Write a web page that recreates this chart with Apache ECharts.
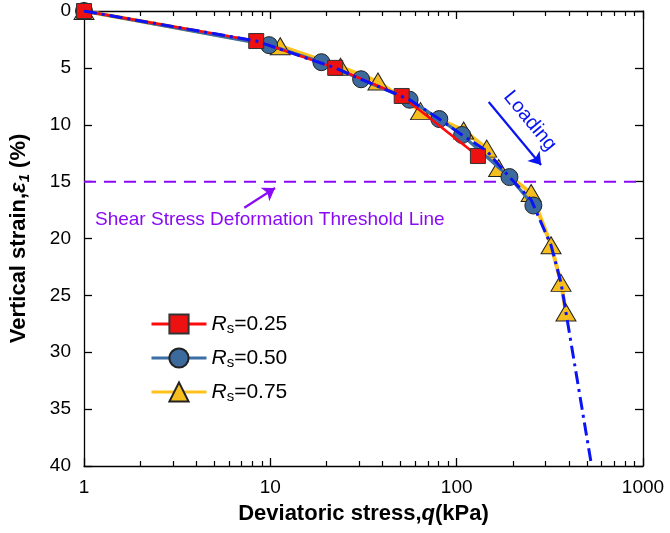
<!DOCTYPE html>
<html><head><meta charset="utf-8">
<script src="https://cdn.jsdelivr.net/npm/echarts@6/dist/echarts.min.js"></script>
<style>html,body{margin:0;padding:0;background:#fff}#c{width:670px;height:533px}</style>
</head><body><div id="c"></div>
<script>
// ---- data ----
const q025 = [1, 8.4, 22.3, 50.7, 130];
const e025 = [0, 2.64, 5.0, 7.47, 12.75];
const q050 = [1, 9.85, 18.8, 30.7, 55.9, 80.7, 107, 192, 258];
const e050 = [0, 3.0, 4.5, 6.0, 7.8, 9.5, 10.9, 14.6, 17.1];
const q075 = [1, 11.3, 23.8, 37.8, 64, 109, 145, 168, 251, 321, 363, 386];
const e075 = [0, 3.1, 4.9, 6.2, 8.8, 10.5, 12.1, 13.8, 16.0, 20.6, 23.9, 26.5];
const qFit = [1, 8.4, 22.3, 30.7, 55.9, 80.7, 107, 145, 192, 251, 321, 363, 386, 530];
const eFit = [0, 2.64, 5.0, 6.0, 7.8, 9.5, 10.9, 12.3, 14.6, 16.6, 20.6, 23.9, 26.5, 40];
const thrQ = [1, 1000];
const thrE = [15, 15];
const xMajor = [1, 10, 100, 1000];
const xMinor = [2,3,4,5,6,7,8,9,20,30,40,50,60,70,80,90,200,300,400,500,600,700,800,900];
const yTicks = [0, 5, 10, 15, 20, 25, 30, 35, 40];
const shearArrow = [[7.25, 17.3], [10.6, 15.56]];
const loadArrow = [[148.6, 8.0], [284, 13.54]];
const names = ['Rs=0.25', 'Rs=0.50', 'Rs=0.75'];

const zip = (a, b) => a.map((v, i) => [v, b[i]]);
const FONT = "'Liberation Sans', Arial, sans-serif";
const chart = echarts.init(document.getElementById('c'));

const xBase = {type: 'log', logBase: 10, min: 1, max: 1000, gridIndex: 0, splitLine: {show: false}};
const option = {
  backgroundColor: '#fff',
  animation: false,
  grid: {left: 78, right: 27, top: 11, bottom: 67, containLabel: false},
  xAxis: [
    Object.assign({}, xBase, {
      position: 'bottom',
      axisLine: {show: true, onZero: false, lineStyle: {color: '#000', width: 1.3}},
      axisTick: {show: true, inside: true, length: 8, lineStyle: {color: '#000', width: 1.3}, customValues: xMajor},
      axisLabel: {show: true, fontSize: 19, color: '#000', fontFamily: FONT, margin: 12, customValues: xMajor,
                  formatter: v => String(Math.round(v))},
      name: '{b|Deviatoric stress,}{bi|q}{b|(kPa)}',
      nameLocation: 'middle', nameGap: 37,
      nameTextStyle: {fontSize: 22, fontWeight: 'bold', color: '#000', fontFamily: FONT,
        rich: {b: {fontSize: 22, fontWeight: 'bold', fontFamily: FONT, color: '#000'},
               bi: {fontSize: 22, fontWeight: 'bold', fontStyle: 'italic', fontFamily: FONT, color: '#000'}}}
    }),
    Object.assign({}, xBase, {
      position: 'bottom',
      axisLine: {show: false, onZero: false}, axisLabel: {show: false},
      axisTick: {show: true, inside: true, length: 5, lineStyle: {color: '#000', width: 1.2}, customValues: xMinor}
    }),
    Object.assign({}, xBase, {
      position: 'top',
      axisLine: {show: true, onZero: false, lineStyle: {color: '#000', width: 1.3}}, axisLabel: {show: false},
      axisTick: {show: true, inside: true, length: 8, lineStyle: {color: '#000', width: 1.3}, customValues: xMajor}
    }),
    Object.assign({}, xBase, {
      position: 'top',
      axisLine: {show: false, onZero: false}, axisLabel: {show: false},
      axisTick: {show: true, inside: true, length: 5, lineStyle: {color: '#000', width: 1.2}, customValues: xMinor}
    })
  ],
  yAxis: [
    {type: 'value', inverse: true, min: 0, max: 40, interval: 5, position: 'left',
     splitLine: {show: false},
     axisLine: {show: true, onZero: false, lineStyle: {color: '#000', width: 1.3}},
     axisTick: {show: true, inside: true, length: 8, lineStyle: {color: '#000', width: 1.3}, customValues: yTicks},
     axisLabel: {fontSize: 19, color: '#000', fontFamily: FONT, margin: 13, customValues: yTicks},
     name: '{b|Vertical strain,}{bi|ε}{sub|1}{b| (%)}',
     nameLocation: 'middle', nameGap: 52,
     nameTextStyle: {fontSize: 22, fontWeight: 'bold', color: '#000', fontFamily: FONT,
       rich: {b: {fontSize: 22, fontWeight: 'bold', fontFamily: FONT, color: '#000', lineHeight: 26},
              bi: {fontSize: 22, fontWeight: 'bold', fontStyle: 'italic', fontFamily: FONT, color: '#000', lineHeight: 26},
              sub: {fontSize: 15, fontWeight: 'bold', fontStyle: 'italic', fontFamily: FONT, color: '#000', verticalAlign: 'bottom', lineHeight: 26, padding: [8, 0, 0, 0]}}}
    },
    {type: 'value', inverse: true, min: 0, max: 40, interval: 5, position: 'right',
     splitLine: {show: false},
     axisLine: {show: true, onZero: false, lineStyle: {color: '#000', width: 1.3}},
     axisTick: {show: true, inside: true, length: 8, lineStyle: {color: '#000', width: 1.3}, customValues: yTicks},
     axisLabel: {show: false}
    }
  ],
  legend: {
    data: names,
    orient: 'vertical', left: 145, top: 307,
    itemWidth: 55, itemHeight: 24, itemGap: 10,
    lineStyle: {width: 3},
    textStyle: {fontSize: 20, color: '#000', fontFamily: FONT,
      rich: {i: {fontSize: 21, fontStyle: 'italic', fontFamily: FONT, color: '#000', lineHeight: 24},
             s: {fontSize: 15, fontFamily: FONT, color: '#000', verticalAlign: 'bottom', lineHeight: 24, padding: [9, 0, 0, 0]},
             n: {fontSize: 21, fontFamily: FONT, color: '#000', lineHeight: 24}}},
    formatter: n => '{i|R}{s|s}{n|' + n.slice(2) + '}'
  },
  series: [
    {name: 'thr', type: 'line', xAxisIndex: 0, yAxisIndex: 0, data: zip(thrQ, thrE), symbol: 'none',
     lineStyle: {color: '#8A0AF5', width: 2, type: [12, 8]}, z: 1, silent: true,
     markLine: {silent: true, symbol: ['none', 'arrow'], symbolSize: 12, label: {show: false},
       data: [
         [{coord: shearArrow[0], symbol: 'none', lineStyle: {color: '#8A0AF5', width: 2.2, type: 'solid'}},
          {coord: shearArrow[1], symbol: 'arrow', symbolSize: 12, itemStyle: {color: '#8A0AF5'}}],
         [{coord: loadArrow[0], symbol: 'none', lineStyle: {color: '#0A14F0', width: 2.2, type: 'solid'}},
          {coord: loadArrow[1], symbol: 'arrow', symbolSize: 12, itemStyle: {color: '#0A14F0'}}]
       ]}
    },
    {name: names[2], type: 'line', data: zip(q075, e075), symbol: 'triangle', symbolSize: [20, 17],
     lineStyle: {color: '#FFC21A', width: 4}, itemStyle: {color: '#F6BE1C', borderColor: '#222', borderWidth: 1}, z: 2},
    {name: names[1], type: 'line', data: zip(q050, e050), symbol: 'circle', symbolSize: 17,
     lineStyle: {color: '#3A6EA5', width: 3.2}, itemStyle: {color: '#3C6A9C', borderColor: '#222', borderWidth: 1}, z: 3},
    {name: names[0], type: 'line', data: zip(q025, e025), symbol: 'rect', symbolSize: 15,
     lineStyle: {color: '#FF0A0A', width: 2.6}, itemStyle: {color: '#EE1111', borderColor: '#333', borderWidth: 1}, z: 4},
    {name: 'fit', type: 'line', data: zip(qFit, eFit), symbol: 'none',
     lineStyle: {color: '#0A14F5', width: 3, type: [13, 5, 3, 5]}, z: 5, silent: true}
  ],
  graphic: [
    {type: 'text', left: 95, top: 210, z: 10,
     style: {text: 'Shear Stress Deformation Threshold Line', font: '19px ' + FONT, fill: '#8A0AF5'}},
    {type: 'text', x: 530, y: 121, rotation: -0.88, z: 10,
     style: {text: 'Loading', font: '20px ' + FONT, fill: '#0A14F0', align: 'center', verticalAlign: 'middle'}}
  ]
};
chart.setOption(option);
</script></body></html>
